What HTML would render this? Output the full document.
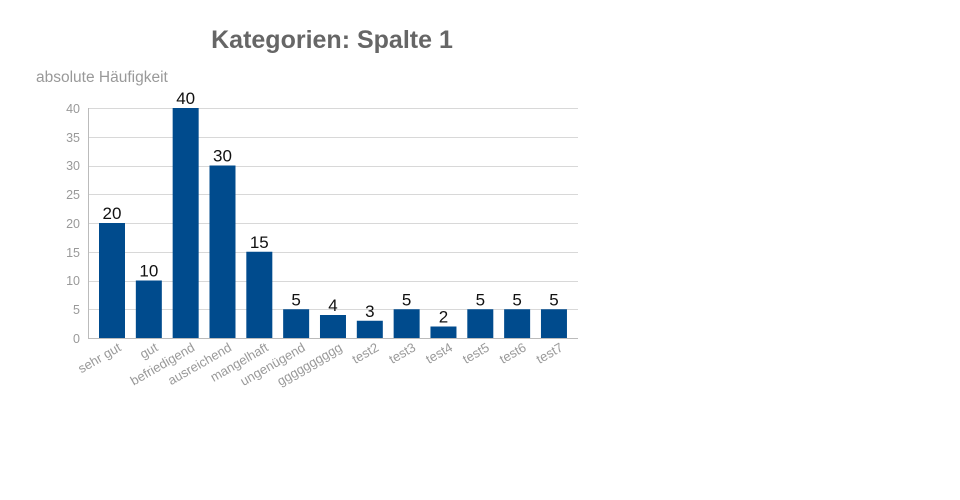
<!DOCTYPE html>
<html><head><meta charset="utf-8"><style>body{margin:0;background:#fff}svg{display:block}</style></head>
<body>
<svg width="960" height="500" xmlns="http://www.w3.org/2000/svg" font-family="Liberation Sans, sans-serif">
<text x="332" y="48" text-anchor="middle" font-size="25" font-weight="bold" fill="#666">Kategorien: Spalte 1</text>
<text x="36" y="82" font-size="15.5" fill="#999">absolute Häufigkeit</text>
<g stroke="#d8d8d8" stroke-width="1">
<line x1="88" x2="578" y1="108.5" y2="108.5"/><line x1="88" x2="578" y1="137.5" y2="137.5"/>
<line x1="88" x2="578" y1="166.5" y2="166.5"/><line x1="88" x2="578" y1="194.5" y2="194.5"/>
<line x1="88" x2="578" y1="223.5" y2="223.5"/><line x1="88" x2="578" y1="252.5" y2="252.5"/>
<line x1="88" x2="578" y1="281.5" y2="281.5"/><line x1="88" x2="578" y1="309.5" y2="309.5"/>
</g>
<line x1="88.5" x2="88.5" y1="108" y2="338" stroke="#bbb"/>
<line x1="88" x2="578" y1="338.5" y2="338.5" stroke="#bbb"/>
<g font-size="12.5" fill="#999" text-anchor="end">
<text x="80" y="343">0</text><text x="80" y="314">5</text><text x="80" y="285">10</text><text x="80" y="257">15</text>
<text x="80" y="228">20</text><text x="80" y="199">25</text><text x="80" y="170">30</text><text x="80" y="142">35</text><text x="80" y="113">40</text>
</g>
<g id="bars" fill="#004b8d"></g>
<g id="vals" font-size="17" fill="#111" text-anchor="middle"></g>
<g id="labs" font-size="13" fill="#999" text-anchor="end"></g>
<script>
var d=[["sehr gut",20],["gut",10],["befriedigend",40],["ausreichend",30],["mangelhaft",15],["ungenügend",5],["gggggggggg",4],["test2",3],["test3",5],["test4",2],["test5",5],["test6",5],["test7",5]];
var ns="http://www.w3.org/2000/svg",b=document.getElementById("bars"),v=document.getElementById("vals"),l=document.getElementById("labs");
d.forEach(function(e,i){var x=99+36.83*i,h=e[1]*5.75,c=x+13;
var r=document.createElementNS(ns,"rect");r.setAttribute("x",x);r.setAttribute("y",338-h);r.setAttribute("width",26);r.setAttribute("height",h);b.appendChild(r);
var t=document.createElementNS(ns,"text");t.setAttribute("x",c);t.setAttribute("y",338-h-4);t.textContent=e[1];v.appendChild(t);
var s=document.createElementNS(ns,"text");s.setAttribute("transform","translate("+(c+10)+",350) rotate(-30)");s.textContent=e[0];l.appendChild(s);});
</script>
</svg>
</body></html>
